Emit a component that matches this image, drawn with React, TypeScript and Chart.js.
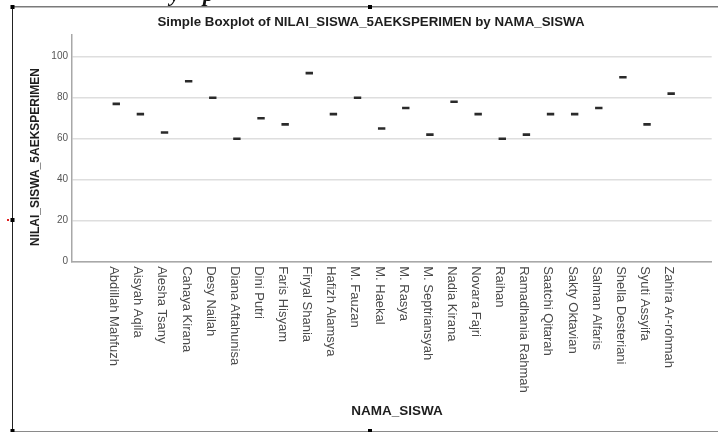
import React, { useEffect, useRef } from 'react';
import { Chart, registerables } from 'chart.js';

Chart.register(...registerables);

const students: string[] = [
  'Abdillah Mahfuzh', 'Aisyah Aqila', 'Alesha Tsany', 'Cahaya Kirana', 'Desy Nailah',
  'Diana Aftahunisa', 'Dini Putri', 'Faris Hisyam', 'Firyal Shania', 'Hafizh Alamsya',
  'M. Fauzan', 'M. Haekal', 'M. Rasya', 'M. Septriansyah', 'Nadia Kirana', 'Novara Fajri',
  'Raihan', 'Ramadhania Rahmah', 'Saatchi Qitarah', 'Sakty Oktavian', 'Salman Alfaris',
  'Shella Desteriani', 'Syuti Assyifa', 'Zahira Ar-rohmah',
];
const scores: number[] = [
  77, 72, 63, 88, 80, 60, 70, 67, 92, 72, 80, 65,
  75, 62, 78, 72, 60, 62, 72, 72, 75, 90, 67, 82,
];
const yTickValues: number[] = [0, 20, 40, 60, 80, 100];

const chartTitle = 'Simple Boxplot of NILAI_SISWA_5AEKSPERIMEN by NAMA_SISWA';
const yTitle = 'NILAI_SISWA_5AEKSPERIMEN';
const xTitle = 'NAMA_SISWA';

const FONT = '"Liberation Sans", Arial, sans-serif';

const decor = {
  id: 'decor',
  afterDraw(chart: any) {
    const ctx: CanvasRenderingContext2D = chart.ctx;
    const xs = chart.scales.x;
    const area = chart.chartArea;
    ctx.save();

    // category labels, rotated clockwise
    ctx.font = `13px ${FONT}`;
    ctx.fillStyle = '#4a4a4a';
    ctx.textAlign = 'left';
    ctx.textBaseline = 'middle';
    students.forEach((name, i) => {
      const px = xs.getPixelForValue(i) - 2.5;
      ctx.save();
      ctx.translate(px, area.bottom + 4.5);
      ctx.rotate(Math.PI / 2);
      ctx.fillText(name, 0, 0);
      ctx.restore();
    });

    // chart title
    ctx.fillStyle = '#1e1e1e';
    ctx.textAlign = 'center';
    ctx.font = `bold 13.3px ${FONT}`;
    ctx.fillText(chartTitle, 371, 22);

    // x title
    ctx.font = `bold 13.5px ${FONT}`;
    ctx.fillText(xTitle, 397, 411.5);

    // y title
    ctx.save();
    ctx.translate(36, 157);
    ctx.rotate(-Math.PI / 2);
    ctx.font = `bold 12px ${FONT}`;
    ctx.fillText(yTitle, 0, 0);
    ctx.restore();

    // outer frame
    ctx.strokeStyle = '#7a7a7a';
    ctx.lineWidth = 1.5;
    ctx.beginPath();
    ctx.moveTo(12, 6.75);
    ctx.lineTo(718, 6.75);
    ctx.stroke();
    ctx.strokeStyle = '#8a8a8a';
    ctx.lineWidth = 1;
    ctx.beginPath();
    ctx.moveTo(12, 431.5);
    ctx.lineTo(718, 431.5);
    ctx.stroke();
    ctx.strokeStyle = '#222';
    ctx.beginPath();
    ctx.moveTo(12.5, 7);
    ctx.lineTo(12.5, 432);
    ctx.stroke();

    // handles
    ctx.fillStyle = '#000';
    const handles = [[12.5, 7], [370, 7], [12.5, 220], [12.5, 431], [370, 431]];
    handles.forEach(([hx, hy]) => ctx.fillRect(hx - 2, hy - 2, 4, 4));
    ctx.fillStyle = '#e02020';
    ctx.fillRect(7, 219, 2, 2);

    // cut-off document text at the very top
    ctx.fillStyle = '#111';
    ctx.textAlign = 'left';
    ctx.textBaseline = 'alphabetic';
    ctx.font = 'bold italic 22px "Liberation Serif", serif';
    ctx.fillText('y', 170, 0.5);
    ctx.fillText('p', 203, 0.5);

    ctx.restore();
  },
};

export default function App() {
  const ref = useRef<HTMLCanvasElement>(null);
  useEffect(() => {
    const chart = new Chart(ref.current as HTMLCanvasElement, {
      type: 'scatter',
      data: {
        datasets: [
          {
            data: students.map((_, i) => ({ x: i, y: scores[i] })),
            pointStyle: 'line',
            pointRadius: 3.7,
            pointHoverRadius: 3.7,
            pointBorderWidth: 2.6,
            pointBorderColor: '#2a2a2a',
            pointBackgroundColor: '#2a2a2a',
            borderColor: '#2a2a2a',
            backgroundColor: '#2a2a2a',
          } as any,
        ],
      },
      options: {
        animation: false,
        responsive: false,
        events: [],
        layout: { padding: { top: 35, left: 0, right: 0, bottom: 0 } },
        plugins: {
          legend: { display: false },
          tooltip: { enabled: false },
          title: { display: false },
        },
        scales: {
          x: {
            type: 'linear',
            min: -1.835,
            max: 24.68,
            grid: { display: false },
            border: { display: true, color: '#a8a8a8', width: 1.5 },
            ticks: { display: false },
            afterFit: (s: any) => {
              s.height = 170.3;
            },
          },
          y: {
            min: 0,
            max: 110.6,
            afterBuildTicks: (s: any) => {
              s.ticks = yTickValues.map((v) => ({ value: v }));
            },
            grid: { color: '#dedede', lineWidth: 1.5, drawTicks: false },
            border: { display: true, color: '#a8a8a8', width: 1.5 },
            ticks: {
              color: '#555',
              font: { family: FONT, size: 10 },
              padding: 4,
            },
            afterFit: (s: any) => {
              s.width = 72;
            },
          },
        },
      } as any,
      plugins: [decor],
    });
    return () => chart.destroy();
  }, []);
  return (
    <div style={{ position: 'absolute', left: 0, top: 0, width: 718, height: 432, background: '#fff' }}>
      <canvas ref={ref} width={718} height={432} style={{ display: 'block' }} />
    </div>
  );
}
